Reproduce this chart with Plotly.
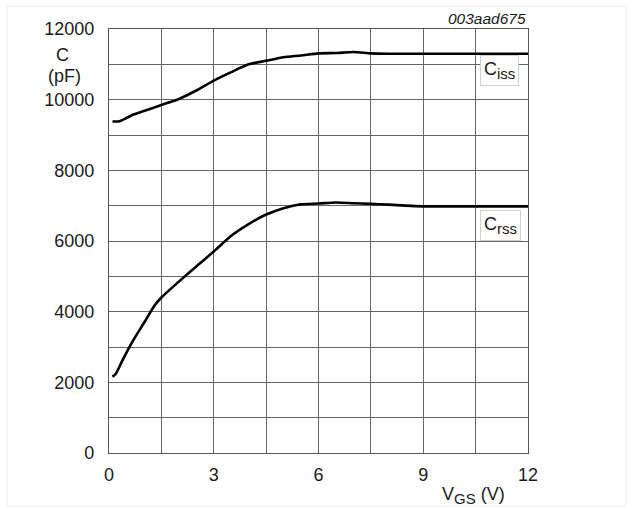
import plotly.graph_objects as go

# ---- data ----
ciss_v = [0.1, 0.3, 0.5, 0.7, 1.0, 1.5, 2.0, 2.5, 3.0, 3.5, 4.0, 4.5, 5.0, 5.5, 6.0, 6.5, 7.0, 7.5, 8.0, 9.0, 10.0, 11.0, 12.0]
ciss_c = [9380, 9390, 9480, 9580, 9680, 9850, 10020, 10260, 10540, 10780, 11000, 11100, 11200, 11250, 11310, 11320, 11350, 11310, 11300, 11300, 11300, 11300, 11300]

crss_v = [0.1, 0.2, 0.4, 0.7, 1.0, 1.3, 1.5, 2.0, 2.5, 3.0, 3.5, 4.0, 4.5, 5.0, 5.5, 6.0, 6.5, 7.0, 7.5, 8.0, 8.5, 9.0, 10.0, 11.0, 12.0]
crss_c = [2160, 2250, 2650, 3200, 3680, 4170, 4400, 4850, 5280, 5700, 6150, 6480, 6750, 6930, 7040, 7060, 7090, 7070, 7050, 7030, 7000, 6980, 6980, 6980, 6980]

x_ticks = [0, 3, 6, 9, 12]
y_ticks = [0, 2000, 4000, 6000, 8000, 10000, 12000]

FONT = "Liberation Sans, Arial, Helvetica, sans-serif"
TXT = "#1a1a1a"

fig = go.Figure()
for xs, ys in [(ciss_v, ciss_c), (crss_v, crss_c)]:
    fig.add_trace(go.Scatter(x=xs, y=ys, mode="lines",
                             line=dict(color="black", width=2.6, shape="spline", smoothing=0.6),
                             showlegend=False, hoverinfo="skip"))

grid_col = "#666666"
fig.update_xaxes(range=[0, 12], tickvals=x_ticks, ticktext=[str(v) for v in x_ticks],
                 showgrid=True, gridcolor=grid_col, gridwidth=1,
                 minor=dict(dtick=1.5, tick0=0, showgrid=True, gridcolor=grid_col, gridwidth=1),
                 showline=True, linecolor="#555", linewidth=1.2, mirror=True,
                 zeroline=False, ticks="", ticklabelstandoff=5,
                 tickfont=dict(family=FONT, size=18, color=TXT), fixedrange=True)
fig.update_yaxes(range=[0, 12000], tickvals=y_ticks, ticktext=[str(v) for v in y_ticks],
                 showgrid=True, gridcolor=grid_col, gridwidth=1,
                 minor=dict(dtick=1000, tick0=0, showgrid=True, gridcolor=grid_col, gridwidth=1),
                 showline=True, linecolor="#555", linewidth=1.2, mirror=True,
                 zeroline=False, ticks="", ticklabelstandoff=10,
                 tickfont=dict(family=FONT, size=18, color=TXT), fixedrange=True)

W, H = 629, 507
L, R, T, B = 109, 101, 29, 54
pw, ph = W - L - R, H - T - B

def px(x):
    return (x - L) / pw

def py(y):
    return (H - B - y) / ph

SUB = "<sub><span style='font-size:15px'>{}</span></sub>"

annos = [
    dict(text="C", x=px(62), y=py(55), size=18),
    dict(text="(pF)", x=px(64), y=py(76), size=18),
    dict(text="V" + SUB.format("GS") + " (V)", x=px(473), y=py(495), size=18),
]
for a in annos:
    fig.add_annotation(text=a["text"], x=a["x"], y=a["y"], xref="paper", yref="paper",
                       xanchor="center", yanchor="middle",
                       showarrow=False, font=dict(family=FONT, size=a["size"], color=TXT))

fig.add_annotation(text="<i>003aad675</i>", x=px(528), y=py(19), xref="paper", yref="paper",
                   xanchor="right", yanchor="middle", showarrow=False,
                   font=dict(family=FONT, size=15.5, color=TXT))

for txt, cx, cy in [("C" + SUB.format("iss"), 499.5, 70), ("C" + SUB.format("rss"), 500, 225)]:
    fig.add_annotation(text=txt, x=px(cx), y=py(cy), xref="paper", yref="paper",
                       xanchor="center", yanchor="middle",
                       showarrow=False, bgcolor="white", bordercolor="#d0d0d0", borderwidth=1,
                       borderpad=3, font=dict(family=FONT, size=18, color=TXT))

# faint outer frame
fig.add_shape(type="rect", xref="paper", yref="paper",
              x0=px(7), x1=px(626), y0=py(506), y1=py(6),
              line=dict(color="#ececec", width=1), fillcolor="rgba(0,0,0,0)", layer="below")

fig.update_layout(width=W, height=H, autosize=False,
                  margin=dict(l=L, r=R, t=T, b=B),
                  paper_bgcolor="white", plot_bgcolor="white",
                  font=dict(family=FONT, color=TXT))

fig.write_html("out.html", config={"displayModeBar": False})
